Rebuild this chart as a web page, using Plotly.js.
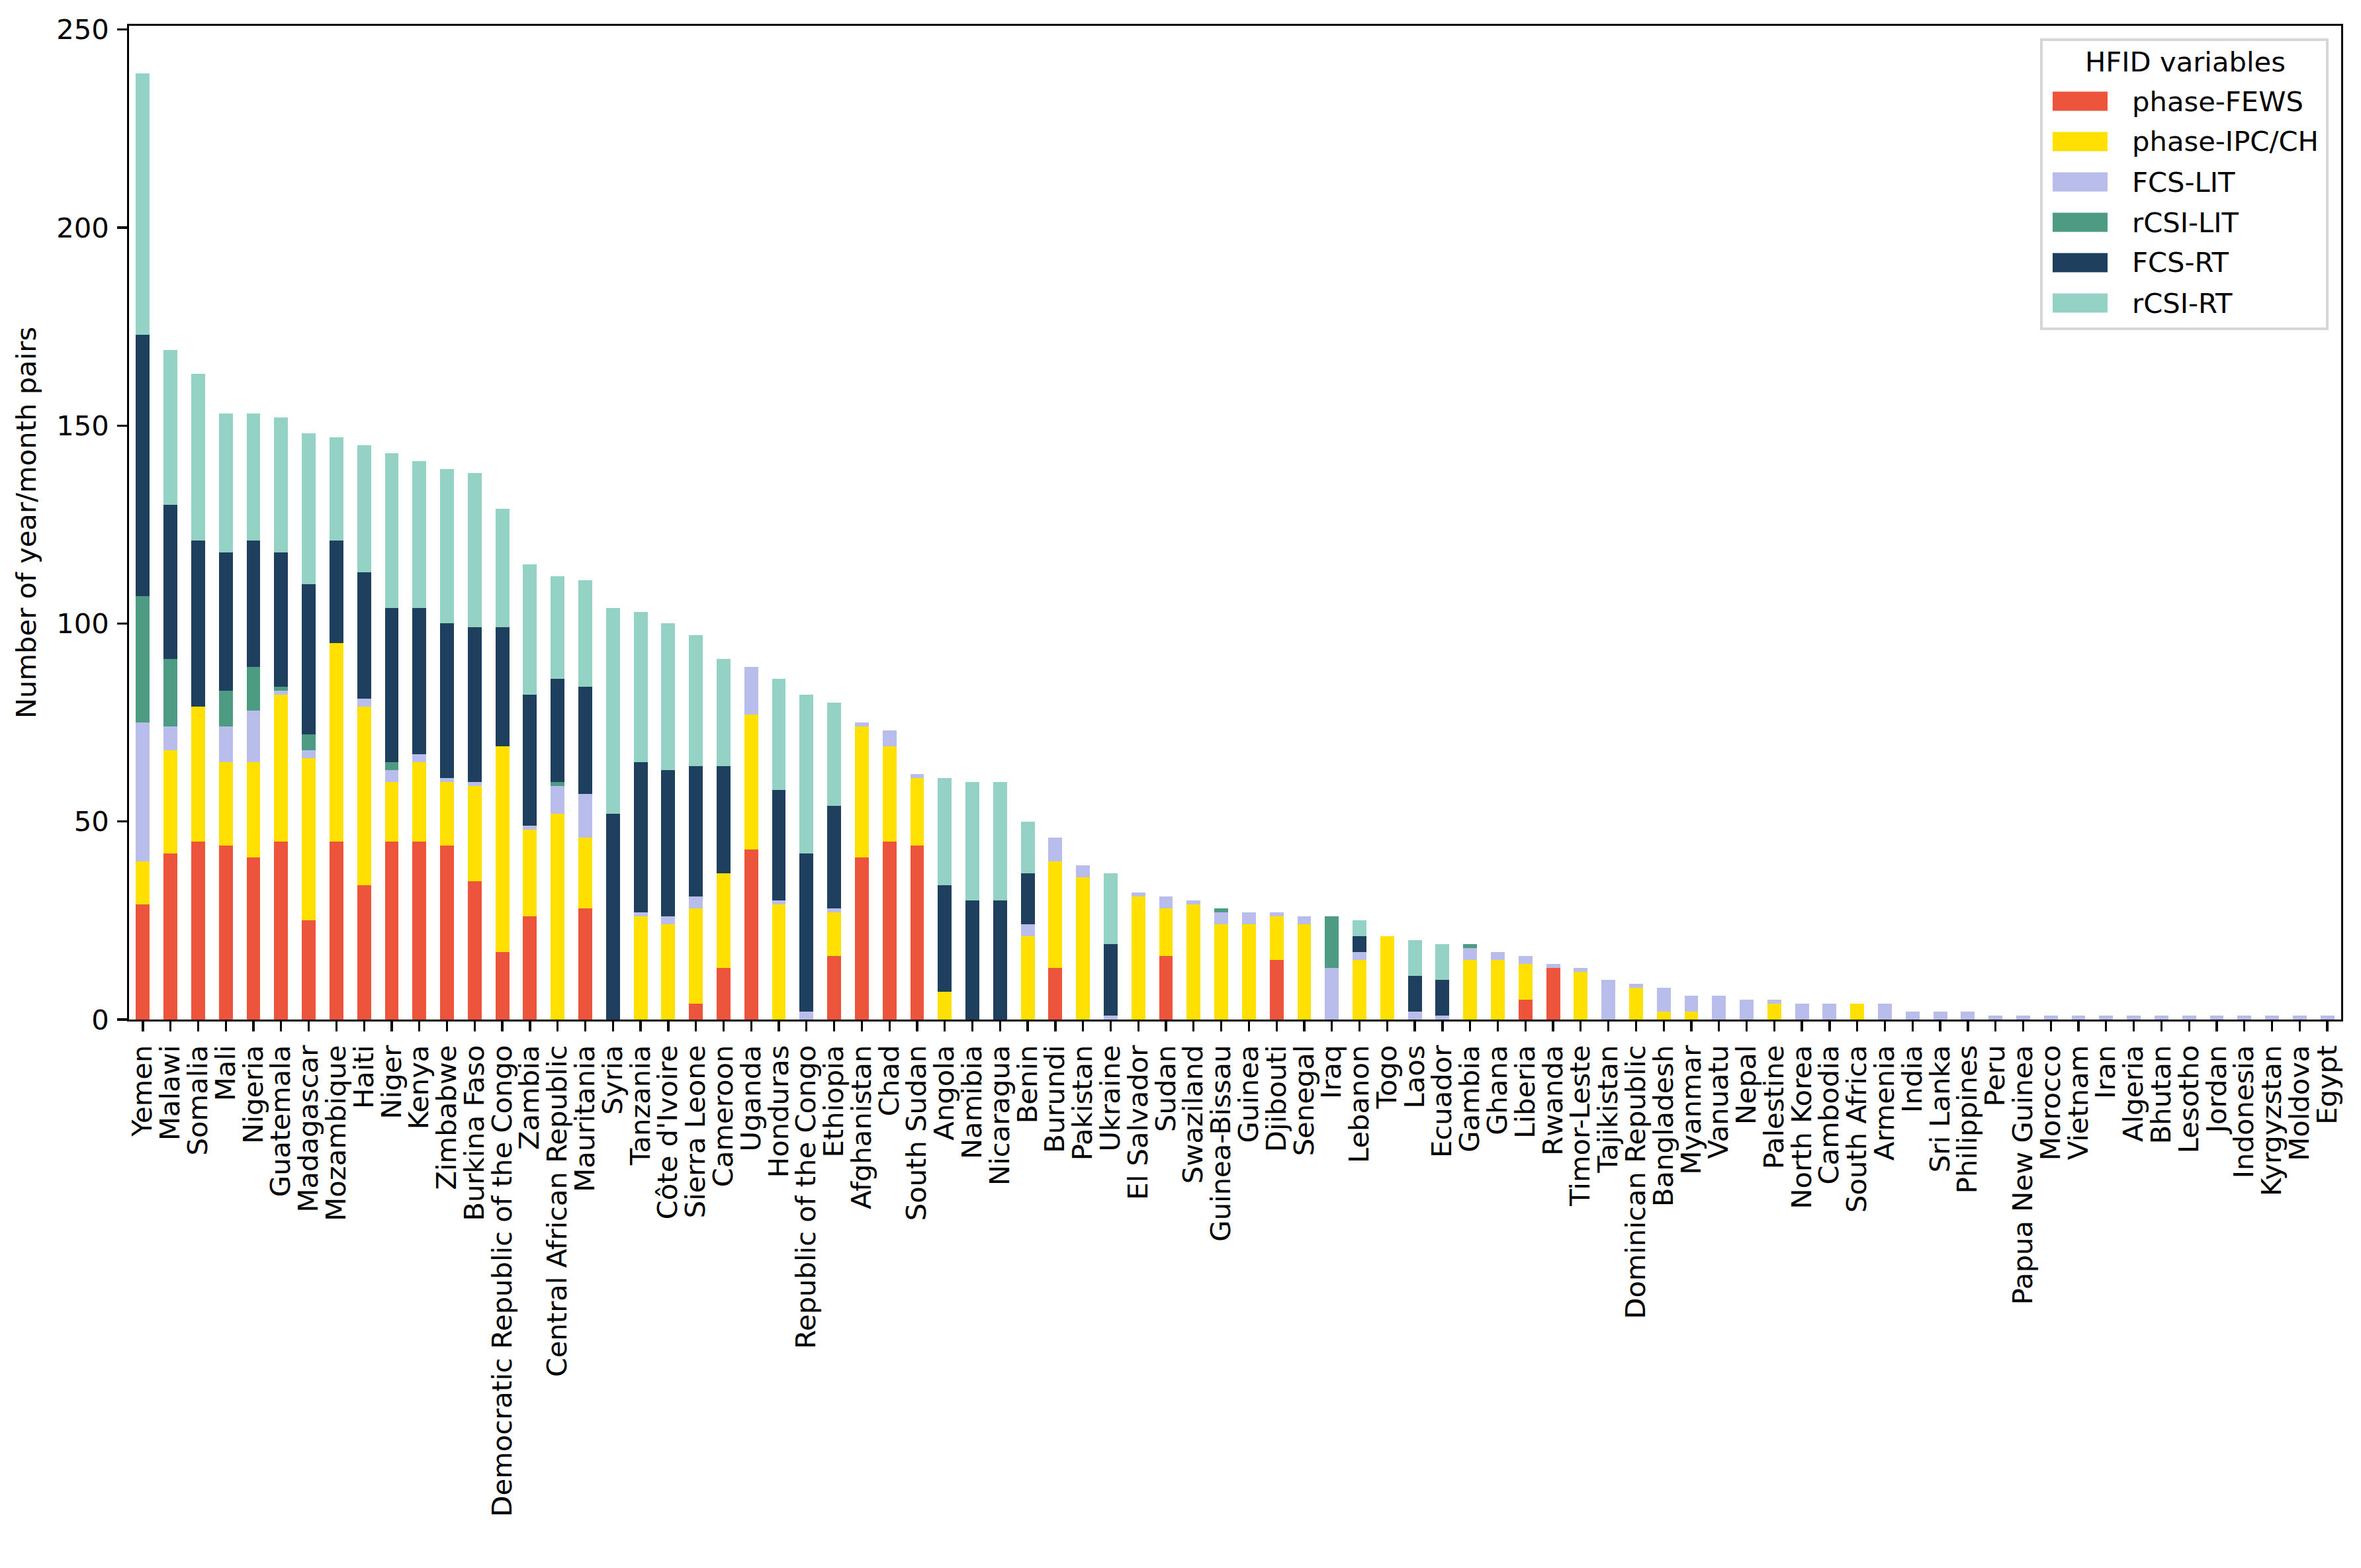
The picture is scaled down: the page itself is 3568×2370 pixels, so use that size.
<!DOCTYPE html>
<html>
<head>
<meta charset="utf-8">
<script src="https://cdn.plot.ly/plotly-3.0.1.min.js"></script>
<style>
  html, body { margin: 0; padding: 0; background: #fff; }
  #chart { width: 3568px; height: 2370px; }
</style>
</head>
<body>
<div id="chart"></div>
<script>
// Countries, sorted by total number of year/month pairs
const countries = [
  'Yemen', 'Malawi', 'Somalia', 'Mali', 'Nigeria', 'Guatemala', 'Madagascar', 'Mozambique', 'Haiti', 'Niger',
  'Kenya', 'Zimbabwe', 'Burkina Faso', 'Democratic Republic of the Congo', 'Zambia', 'Central African Republic', 'Mauritania', 'Syria', 'Tanzania', "Côte d'Ivoire",
  'Sierra Leone', 'Cameroon', 'Uganda', 'Honduras', 'Republic of the Congo', 'Ethiopia', 'Afghanistan', 'Chad', 'South Sudan', 'Angola',
  'Namibia', 'Nicaragua', 'Benin', 'Burundi', 'Pakistan', 'Ukraine', 'El Salvador', 'Sudan', 'Swaziland', 'Guinea-Bissau',
  'Guinea', 'Djibouti', 'Senegal', 'Iraq', 'Lebanon', 'Togo', 'Laos', 'Ecuador', 'Gambia', 'Ghana',
  'Liberia', 'Rwanda', 'Timor-Leste', 'Tajikistan', 'Dominican Republic', 'Bangladesh', 'Myanmar', 'Vanuatu', 'Nepal', 'Palestine',
  'North Korea', 'Cambodia', 'South Africa', 'Armenia', 'India', 'Sri Lanka', 'Philippines', 'Peru', 'Papua New Guinea', 'Morocco',
  'Vietnam', 'Iran', 'Algeria', 'Bhutan', 'Lesotho', 'Jordan', 'Indonesia', 'Kyrgyzstan', 'Moldova', 'Egypt'
];

const phaseFews = [
  29, 42, 45, 44, 41, 45, 25, 45, 34, 45,
  45, 44, 35, 17, 26, 0, 28, 0, 0, 0,
  4, 13, 43, 0, 0, 16, 41, 45, 44, 0,
  0, 0, 0, 13, 0, 0, 0, 16, 0, 0,
  0, 15, 0, 0, 0, 0, 0, 0, 0, 0,
  5, 13, 0, 0, 0, 0, 0, 0, 0, 0,
  0, 0, 0, 0, 0, 0, 0, 0, 0, 0,
  0, 0, 0, 0, 0, 0, 0, 0, 0, 0
];
const phaseIpc = [
  11, 26, 34, 21, 24, 37, 41, 50, 45, 15,
  20, 16, 24, 52, 22, 52, 18, 0, 26, 24,
  24, 24, 34, 29, 0, 11, 33, 24, 17, 7,
  0, 0, 21, 27, 36, 0, 31, 12, 29, 24,
  24, 11, 24, 0, 15, 21, 0, 0, 15, 15,
  9, 0, 12, 0, 8, 2, 2, 0, 0, 4,
  0, 0, 4, 0, 0, 0, 0, 0, 0, 0,
  0, 0, 0, 0, 0, 0, 0, 0, 0, 0
];
const fcsLit = [
  35, 6, 0, 9, 13, 1, 2, 0, 2, 3,
  2, 1, 1, 0, 1, 7, 11, 0, 1, 2,
  3, 0, 12, 1, 2, 1, 1, 4, 1, 0,
  0, 0, 3, 6, 3, 1, 1, 3, 1, 3,
  3, 1, 2, 13, 2, 0, 2, 1, 3, 2,
  2, 1, 1, 10, 1, 6, 4, 6, 5, 1,
  4, 4, 0, 4, 2, 2, 2, 1, 1, 1,
  1, 1, 1, 1, 1, 1, 1, 1, 1, 1
];
const rcsiLit = [
  32, 17, 0, 9, 11, 1, 4, 0, 0, 2,
  0, 0, 0, 0, 0, 1, 0, 0, 0, 0,
  0, 0, 0, 0, 0, 0, 0, 0, 0, 0,
  0, 0, 0, 0, 0, 0, 0, 0, 0, 1,
  0, 0, 0, 13, 0, 0, 0, 0, 1, 0,
  0, 0, 0, 0, 0, 0, 0, 0, 0, 0,
  0, 0, 0, 0, 0, 0, 0, 0, 0, 0,
  0, 0, 0, 0, 0, 0, 0, 0, 0, 0
];
const fcsRt = [
  66, 39, 42, 35, 32, 34, 38, 26, 32, 39,
  37, 39, 39, 30, 33, 26, 27, 52, 38, 37,
  33, 27, 0, 28, 40, 26, 0, 0, 0, 27,
  30, 30, 13, 0, 0, 18, 0, 0, 0, 0,
  0, 0, 0, 0, 4, 0, 9, 9, 0, 0,
  0, 0, 0, 0, 0, 0, 0, 0, 0, 0,
  0, 0, 0, 0, 0, 0, 0, 0, 0, 0,
  0, 0, 0, 0, 0, 0, 0, 0, 0, 0
];
const rcsiRt = [
  66, 39, 42, 35, 32, 34, 38, 26, 32, 39,
  37, 39, 39, 30, 33, 26, 27, 52, 38, 37,
  33, 27, 0, 28, 40, 26, 0, 0, 0, 27,
  30, 30, 13, 0, 0, 18, 0, 0, 0, 0,
  0, 0, 0, 0, 4, 0, 9, 9, 0, 0,
  0, 0, 0, 0, 0, 0, 0, 0, 0, 0,
  0, 0, 0, 0, 0, 0, 0, 0, 0, 0,
  0, 0, 0, 0, 0, 0, 0, 0, 0, 0
];

const seriesNames  = ['phase-FEWS', 'phase-IPC/CH', 'FCS-LIT', 'rCSI-LIT', 'FCS-RT', 'rCSI-RT'];
const seriesValues = [phaseFews, phaseIpc, fcsLit, rcsiLit, fcsRt, rcsiRt];
const seriesColors = ['#ec553b', '#ffe000', '#b9bdec', '#4d9b83', '#1f3f5e', '#93d2c5'];

const W = 3568, H = 2370;
const M = { l: 195, r: 30, t: 39, b: 829 };
const FONT = 'DejaVu Sans, sans-serif';
const FS = 41.7;   // 10pt at 300 dpi
const LW = 3.3;    // 0.8pt

// pixel -> paper helpers (for the hand-built legend box)
const plotW = W - M.l - M.r, plotH = H - M.t - M.b;
const px = x => (x - M.l) / plotW;
const py = y => (H - M.b - y) / plotH;

const xIdx = countries.map((_, i) => i);

const traces = seriesNames.map((name, s) => ({
  type: 'bar',
  name,
  x: xIdx,
  y: seriesValues[s],
  width: 0.5,
  marker: { color: seriesColors[s], line: { width: 0 } },
  showlegend: false,
  hoverinfo: 'skip'
}));

// legend (matplotlib style: title, wide swatches, rounded grey frame)
const shapes = [{
  type: 'rect', xref: 'paper', yref: 'paper',
  x0: px(3085), x1: px(3517), y0: py(497), y1: py(60),
  line: { color: '#d6d6d6', width: 4 }, fillcolor: 'rgba(255,255,255,0.8)'
}];
const annotations = [{
  xref: 'paper', yref: 'paper', x: px(3302), y: py(94),
  text: 'HFID variables', showarrow: false, xanchor: 'center', yanchor: 'middle',
  font: { family: FONT, size: FS, color: '#000' }
}];
const rowY = [153, 214, 275, 336, 397, 458];
seriesNames.forEach((name, s) => {
  shapes.push({
    type: 'rect', xref: 'paper', yref: 'paper',
    x0: px(3102), x1: px(3185), y0: py(rowY[s] + 14.5), y1: py(rowY[s] - 14.5),
    line: { width: 0 }, fillcolor: seriesColors[s]
  });
  annotations.push({
    xref: 'paper', yref: 'paper', x: px(3220), y: py(rowY[s]),
    text: name, showarrow: false, xanchor: 'left', yanchor: 'middle',
    font: { family: FONT, size: FS, color: '#000' }
  });
});

const axisCommon = {
  showline: true, linecolor: '#000', linewidth: LW, mirror: true,
  ticks: 'outside', ticklen: 14.6, tickwidth: LW, tickcolor: '#000',
  tickfont: { family: FONT, size: FS, color: '#000' },
  showgrid: false, zeroline: false
};

const layout = {
  width: W, height: H,
  margin: M,
  paper_bgcolor: '#fff', plot_bgcolor: '#fff',
  font: { family: FONT, size: FS, color: '#000' },
  barmode: 'stack',
  xaxis: {
    ...axisCommon,
    range: [-0.5, countries.length - 0.5],
    tickmode: 'array', tickvals: xIdx, ticktext: countries,
    tickangle: -90,
    ticklabelstandoff: 4
  },
  yaxis: {
    ...axisCommon,
    range: [0, 250.95],
    tickmode: 'linear', tick0: 0, dtick: 50,
    ticklabelstandoff: 4,
    title: { text: 'Number of year/month pairs', font: { family: FONT, size: FS, color: '#000' }, standoff: 18 }
  },
  shapes,
  annotations,
  showlegend: false
};

Plotly.newPlot('chart', traces, layout, { staticPlot: true, displayModeBar: false });
</script>
</body>
</html>
